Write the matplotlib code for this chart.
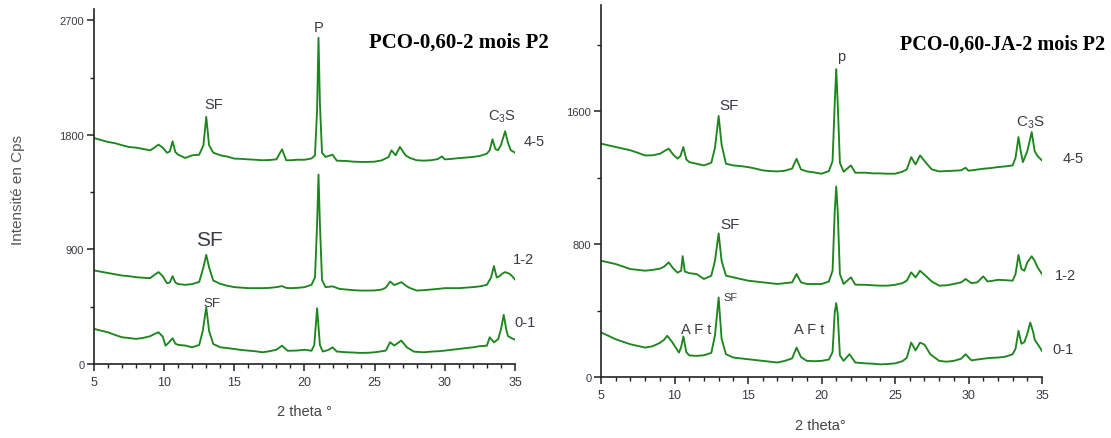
import matplotlib
matplotlib.use("Agg")
import matplotlib.pyplot as plt
from matplotlib.ticker import MultipleLocator

plt.rcParams['font.family'] = ['Liberation Sans', 'DejaVu Sans']
plt.rcParams['mathtext.fontset'] = 'custom'
plt.rcParams['mathtext.rm'] = 'Liberation Sans'
plt.rcParams['mathtext.it'] = 'Liberation Sans'

# ---- left panel: PCO-0,60-2 mois P2 (2theta, Cps)
left_45 = [(5, 1776), (5.5, 1760), (6, 1745), (6.5, 1735), (7, 1719), (7.5, 1705), (8, 1700), (8.5, 1690),
           (9, 1679), (9.3, 1700), (9.6, 1724), (9.9, 1700), (10.2, 1660), (10.4, 1670), (10.6, 1750),
           (10.8, 1665), (11, 1645), (11.5, 1619), (12, 1640), (12.5, 1645), (12.8, 1720), (13.0, 1942),
           (13.2, 1720), (13.5, 1661), (14, 1640), (14.5, 1630), (15, 1614), (15.5, 1612), (16, 1608),
           (16.5, 1605), (17, 1601), (17.5, 1603), (18, 1608), (18.4, 1687), (18.7, 1601), (19, 1601),
           (19.5, 1605), (20, 1605), (20.5, 1615), (20.75, 1640), (20.9, 2000), (21.0, 2564), (21.1, 2050),
           (21.25, 1660), (21.5, 1627), (22, 1645), (22.3, 1598), (23, 1595), (23.5, 1590), (24, 1588),
           (24.5, 1588), (25, 1590), (25.5, 1600), (26, 1627), (26.2, 1679), (26.5, 1640), (26.8, 1706),
           (27.2, 1640), (27.5, 1620), (28, 1601), (28.5, 1598), (29, 1601), (29.5, 1610), (29.8, 1632),
           (30, 1608), (30.5, 1612), (31, 1618), (31.5, 1622), (32, 1627), (32.5, 1635), (33, 1653),
           (33.2, 1680), (33.4, 1766), (33.6, 1690), (33.8, 1680), (34.0, 1720), (34.3, 1829), (34.5, 1740),
           (34.7, 1680), (35, 1661)]
left_12 = [(5, 735), (5.5, 725), (6, 715), (6.5, 705), (7, 695), (7.5, 690), (8, 682), (8.5, 678), (9, 674),
           (9.3, 700), (9.6, 722), (9.9, 690), (10.2, 635), (10.4, 640), (10.6, 690), (10.8, 640), (11, 628),
           (11.5, 622), (12, 628), (12.5, 645), (12.8, 760), (13.0, 858), (13.2, 760), (13.5, 656), (14, 630),
           (14.5, 615), (15, 604), (15.5, 600), (16, 596), (16.5, 596), (17, 596), (17.5, 598), (18, 604),
           (18.4, 612), (18.7, 598), (19, 596), (19.5, 598), (20, 604), (20.5, 622), (20.75, 680), (20.9, 1100),
           (21.0, 1488), (21.1, 1100), (21.25, 660), (21.5, 604), (22, 610), (22.5, 590), (23, 585), (23.5, 580),
           (24, 577), (24.5, 577), (25, 578), (25.5, 585), (25.8, 600), (26.1, 648), (26.4, 620), (26.9, 643),
           (27.3, 610), (27.5, 598), (28, 577), (28.5, 580), (29, 585), (29.5, 590), (30, 596), (30.5, 596),
           (31, 596), (31.5, 600), (32, 604), (32.5, 610), (33, 622), (33.3, 680), (33.5, 769), (33.7, 680),
           (33.9, 690), (34.1, 710), (34.3, 722), (34.6, 710), (34.8, 690), (35, 664)]
left_01 = [(5, 276), (5.5, 262), (6, 249), (6.5, 228), (7, 210), (7.5, 204), (8, 197), (8.5, 205), (9, 218),
           (9.3, 235), (9.6, 249), (9.9, 215), (10.1, 144), (10.3, 165), (10.6, 202), (10.8, 160), (11, 150),
           (11.5, 145), (12, 131), (12.5, 150), (12.75, 260), (13.0, 446), (13.2, 260), (13.5, 157), (14, 131),
           (14.5, 125), (15, 118), (15.5, 110), (16, 105), (16.5, 100), (17, 92), (17.5, 100), (18, 112),
           (18.4, 144), (18.8, 104), (19, 104), (19.5, 106), (20, 112), (20.5, 104), (20.7, 150), (20.9, 438),
           (21.1, 150), (21.3, 98), (21.7, 110), (22, 131), (22.3, 98), (23, 92), (23.5, 90), (24, 87),
           (24.5, 88), (25, 92), (25.5, 100), (25.8, 105), (26.1, 171), (26.4, 145), (26.9, 184), (27.3, 131),
           (27.8, 97), (28.5, 92), (29, 97), (29.5, 100), (30, 105), (30.5, 112), (31, 118), (31.5, 125),
           (32, 131), (32.5, 140), (33, 144), (33.2, 210), (33.5, 170), (33.8, 195), (34.0, 270), (34.2, 386),
           (34.4, 260), (34.5, 220), (34.8, 200), (35, 192)]

# ---- right panel: PCO-0,60-JA-2 mois P2
right_45 = [(5, 1405), (5.5, 1395), (6, 1385), (6.5, 1375), (7, 1365), (7.5, 1350), (8, 1334), (8.5, 1335),
            (9, 1344), (9.3, 1360), (9.6, 1375), (9.9, 1340), (10.2, 1315), (10.4, 1330), (10.6, 1385),
            (10.8, 1310), (11, 1294), (11.5, 1284), (12, 1274), (12.5, 1290), (12.75, 1380), (13.0, 1572),
            (13.2, 1400), (13.5, 1284), (14, 1274), (14.5, 1270), (15, 1264), (15.5, 1255), (16, 1244),
            (16.5, 1240), (17, 1238), (17.5, 1242), (18, 1255), (18.3, 1314), (18.6, 1250), (19, 1238),
            (19.5, 1232), (20, 1224), (20.5, 1240), (20.75, 1300), (20.9, 1650), (21.0, 1854), (21.1, 1650),
            (21.25, 1290), (21.5, 1236), (22, 1274), (22.3, 1230), (23, 1230), (23.5, 1226), (24, 1226),
            (24.5, 1224), (25, 1224), (25.5, 1236), (25.8, 1250), (26.1, 1324), (26.4, 1280), (26.7, 1334),
            (27.2, 1280), (27.5, 1250), (28, 1238), (28.5, 1240), (29, 1242), (29.5, 1245), (29.8, 1260),
            (30, 1242), (30.5, 1248), (31, 1254), (31.5, 1258), (32, 1264), (32.5, 1268), (33, 1274),
            (33.2, 1320), (33.4, 1445), (33.55, 1360), (33.7, 1294), (34.0, 1360), (34.3, 1475), (34.5, 1360),
            (34.7, 1330), (35, 1304)]
right_12 = [(5, 700), (5.5, 690), (6, 680), (6.5, 665), (7, 650), (7.5, 645), (8, 640), (8.5, 645), (9, 652),
            (9.3, 665), (9.6, 690), (9.9, 655), (10.2, 628), (10.45, 640), (10.55, 728), (10.7, 635), (11, 625),
            (11.5, 620), (12, 590), (12.5, 610), (12.75, 700), (13.0, 865), (13.2, 700), (13.5, 610), (14, 600),
            (14.5, 590), (15, 580), (15.5, 575), (16, 570), (16.5, 565), (17, 560), (17.5, 565), (18, 570),
            (18.3, 620), (18.6, 570), (19, 560), (19.5, 560), (20, 560), (20.5, 575), (20.75, 640), (20.9, 1000),
            (21.0, 1147), (21.1, 1000), (21.25, 620), (21.5, 560), (22, 600), (22.3, 556), (23, 555),
            (23.5, 552), (24, 550), (24.5, 550), (25, 555), (25.5, 565), (25.8, 580), (26.1, 630), (26.4, 600),
            (26.7, 640), (27.2, 600), (27.5, 575), (28, 550), (28.5, 552), (29, 560), (29.5, 570), (29.8, 590),
            (30.2, 565), (30.6, 570), (31, 606), (31.3, 575), (31.7, 580), (32, 585), (32.5, 583), (33, 580),
            (33.2, 620), (33.4, 735), (33.6, 650), (33.8, 640), (34.0, 690), (34.3, 727), (34.5, 700),
            (34.7, 660), (35, 620)]
right_01 = [(5, 268), (5.5, 248), (6, 227), (6.5, 212), (7, 197), (7.5, 187), (8, 177), (8.5, 185), (9, 205),
            (9.3, 225), (9.5, 248), (9.8, 215), (10.3, 147), (10.45, 180), (10.6, 244), (10.8, 150), (11, 130),
            (11.5, 127), (12, 131), (12.5, 145), (12.75, 250), (13.0, 479), (13.2, 230), (13.5, 137), (14, 117),
            (14.5, 112), (15, 107), (15.5, 102), (16, 97), (16.5, 92), (17, 87), (17.5, 97), (18, 112),
            (18.3, 177), (18.6, 120), (19, 97), (19.5, 95), (20, 97), (20.5, 105), (20.75, 150), (20.9, 390),
            (21.0, 445), (21.1, 380), (21.25, 130), (21.5, 97), (21.9, 137), (22.3, 87), (23, 82), (23.5, 80),
            (24, 76), (24.5, 78), (25, 82), (25.5, 95), (25.8, 115), (26.1, 207), (26.4, 160), (26.7, 207),
            (27.0, 195), (27.4, 137), (28, 97), (28.5, 92), (29, 97), (29.5, 110), (29.8, 137), (30.2, 100),
            (30.6, 105), (31, 110), (31.5, 115), (32, 117), (32.5, 122), (33, 137), (33.2, 170), (33.4, 278),
            (33.6, 200), (33.8, 210), (34.0, 260), (34.2, 328), (34.4, 270), (34.5, 225), (34.8, 185),
            (35, 157)]

# peak labels: (text, 2theta, Cps, fontsize)
left_labels = [('P', 21.0, 2650, 10.5), ('SF', 13.5, 2040, 10.5), (r'C$_3$S', 34.1, 1950, 10.5),
               ('4-5', 36.4, 1750, 10.5), ('SF', 13.2, 975, 15), ('1-2', 35.6, 825, 10.5),
               ('SF', 13.4, 480, 9.5), ('0-1', 35.7, 330, 10.5)]
right_labels = [('p', 21.3, 1935, 10.5), ('SF', 13.7, 1636, 11), (r'C$_3$S', 34.2, 1536, 11),
                ('4-5', 37.1, 1318, 10.5), ('SF', 13.8, 920, 11), ('1-2', 36.6, 614, 10.5),
                ('SF', 13.8, 483, 8), ('A F t', 11.5, 288, 10.5), ('A F t', 19.15, 288, 10.5),
                ('0-1', 36.4, 167, 10.5)]

green = '#1e861e'
txt = '#3a3a44'

fig = plt.figure(figsize=(11.11, 4.39), dpi=100)
ax1 = fig.add_axes([0.0846, 0.1686, 0.3789, 0.8087])
ax2 = fig.add_axes([0.5410, 0.1390, 0.3969, 0.8473])


def style(ax, ymax, ystep):
    for s in ['top', 'right']:
        ax.spines[s].set_visible(False)
    for s in ['left', 'bottom']:
        ax.spines[s].set_linewidth(1.2)
        ax.spines[s].set_color('#222222')
    ax.set_xlim(5, 35)
    ax.set_ylim(0, ymax)
    ax.xaxis.set_major_locator(MultipleLocator(5))
    ax.xaxis.set_minor_locator(MultipleLocator(1))
    ax.yaxis.set_major_locator(MultipleLocator(ystep))
    ax.yaxis.set_minor_locator(MultipleLocator(ystep / 2))
    ax.tick_params(axis='both', which='major', direction='out', length=5, width=1.1, color='#222222')
    ax.tick_params(axis='both', which='minor', direction='out', length=3.2, width=1.0, color='#222222')
    ax.tick_params(axis='x', labelsize=9, labelcolor=txt, pad=4)
    ax.tick_params(axis='y', labelsize=8, labelcolor=txt, pad=2)


for ax, series, labels in [(ax1, [left_45, left_12, left_01], left_labels),
                           (ax2, [right_45, right_12, right_01], right_labels)]:
    for s in series:
        ax.plot([p[0] for p in s], [p[1] for p in s], color=green, lw=1.35)
    for t, x, y, fs in labels:
        ax.text(x, y, t, fontsize=fs, color=txt, ha='center', va='center', clip_on=False)

style(ax1, 2790, 900)
style(ax2, 2240, 800)

fig.text(0.494, 0.902, 'PCO-0,60-2 mois P2', fontsize=15, fontweight='bold',
         family='Liberation Serif', ha='right', va='center', color='black')
fig.text(0.9946, 0.8975, 'PCO-0,60-JA-2 mois P2', fontsize=14.5, fontweight='bold',
         family='Liberation Serif', ha='right', va='center', color='black')
fig.text(0.0162, 0.567, 'Intensité en Cps', rotation=90, fontsize=11, color='#555555',
         ha='center', va='center')
fig.text(0.274, 0.0615, '2 theta °', fontsize=10.5, color='#444444', ha='center', va='center')
fig.text(0.738, 0.0296, '2 theta°', fontsize=10.5, color='#444444', ha='center', va='center')

fig.savefig('out.png', dpi=100)
